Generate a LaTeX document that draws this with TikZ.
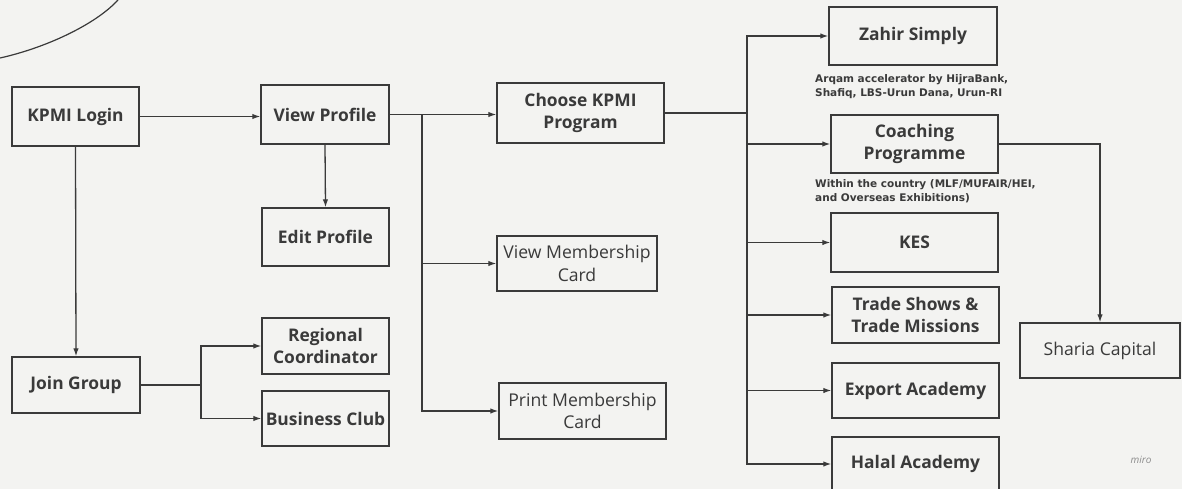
\documentclass[tikz,border=0pt]{standalone}
\usepackage{fontspec}
\setmainfont{Open Sans}
\newfontfamily\capfont{DejaVu Sans}
\usetikzlibrary{arrows.meta}
\definecolor{ink}{HTML}{3A3A3A}
\definecolor{paper}{HTML}{F3F3F1}
\tikzset{
  boxb/.style={draw=ink, line width=1.4pt, text=ink, align=center, inner sep=0pt,
    font=\bfseries\fontsize{17.4}{22.5}\selectfont},
  boxr/.style={boxb, font=\fontsize{17.6}{22.5}\selectfont},
  conn/.style={draw=ink, line width=1.3pt},
  arr/.style={conn, -{Latex[length=8pt,width=5.5pt]}},
  capt/.style={text=ink, align=left, inner sep=0pt, anchor=west,
    font=\capfont\bfseries\fontsize{10.5}{13.8}\selectfont},
}
\begin{document}
\begin{tikzpicture}[x=1pt,y=-1pt]
\fill[paper] (0,0) rectangle (1182,489);
\useasboundingbox (0,0) rectangle (1182,489);
% decorative arc top-left
\draw[ink, line width=1.2pt] (0,58) .. controls (45,48) and (95,25) .. (118,0);

\node[boxb, minimum width=127, minimum height=59] (login) at (75.5,116.5) {KPMI Login};
\node[boxb, minimum width=128, minimum height=59] (vp) at (325,114.5) {View Profile};
\node[boxb, minimum width=127, minimum height=58] (ep) at (325.5,237) {Edit Profile};
\node[boxb, minimum width=127, minimum height=56] (rc) at (325.5,346) {Regional\\Coordinator};
\node[boxb, minimum width=127, minimum height=55] (bc) at (325.5,418.5) {Business Club};
\node[boxb, minimum width=128, minimum height=56] (jg) at (76,385) {Join Group};
\node[boxb, minimum width=167, minimum height=60] (ck) at (580.5,113) {Choose KPMI\\Program};
\node[boxr, minimum width=160, minimum height=55] (vm) at (577,263.5) {View Membership\\Card};
\node[boxr, minimum width=167, minimum height=56] (pm) at (582.5,411) {Print Membership\\Card};
\node[boxb, minimum width=168, minimum height=58] (zs) at (913,36) {Zahir Simply};
\node[boxb, minimum width=167, minimum height=58] (cp) at (914.5,144) {Coaching\\Programme};
\node[boxb, minimum width=167, minimum height=59] (kes) at (914.5,242.5) {KES};
\node[boxb, minimum width=167, minimum height=56] (ts) at (915.5,315) {Trade Shows \&\\Trade Missions};
\node[boxb, minimum width=167, minimum height=55] (ea) at (915.5,390.5) {Export Academy};
\node[boxb, minimum width=167, minimum height=54] (ha) at (915.5,464) {Halal Academy};
\node[boxr, minimum width=160, minimum height=55] (sc) at (1100,350.5) {Sharia Capital};

\node[capt] (c1) at (815,87) {Arqam accelerator by HijraBank,\\Shafiq, LBS-Urun Dana, Urun-RI};
\node[capt] (c2) at (815,191) {Within the country (MLF/MUFAIR/HEI,\\and Overseas Exhibitions)};
\node[text=black!45, inner sep=0pt, font=\itshape\fontsize{10}{12}\selectfont] (miro) at (1141,460) {miro};

% connectors
\draw[arr] (login.east) -- (login.east -| vp.west);
\draw[arr] (login.south) -- (jg.north);
\draw[arr] (vp.south) -- (ep.north);

\coordinate (jgb) at (201,385);
\draw[conn] (jg.east) -- (jgb);
\draw[arr] (jgb) |- (rc.west);
\draw[arr] (jgb) |- (bc.west);

\coordinate (vpb) at (422,114.5);
\draw[conn] (vp.east) -- (vpb);
\draw[arr] (vpb) -- (vpb -| ck.west);
\draw[arr] (vpb) |- (vm.west);
\draw[arr] (vpb) |- (pm.west);

\coordinate (ckb) at (747,113);
\draw[conn] (ck.east) -- (ckb);
\draw[arr] (ckb) |- (zs.west);
\draw[arr] (ckb) |- (ha.west);
\draw[arr] (ckb |- cp.west) -- (cp.west);
\draw[arr] (ckb |- kes.west) -- (kes.west);
\draw[arr] (ckb |- ts.west) -- (ts.west);
\draw[arr] (ckb |- ea.west) -- (ea.west);

\draw[arr] (cp.east) -| (sc.north);
\end{tikzpicture}
\end{document}
